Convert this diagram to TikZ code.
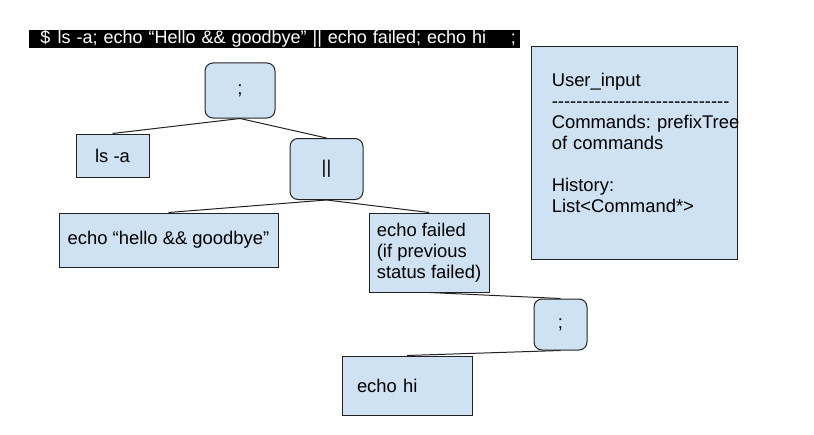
\documentclass[tikz,border=0pt]{standalone}
\usepackage{fontspec}
\setmainfont{Liberation Sans}
\usepackage{xcolor}
\usepackage{tikz}
\usetikzlibrary{positioning}
\definecolor{nodeblue}{HTML}{CFE2F3}
\definecolor{edgegray}{HTML}{222222}
\frenchspacing
\newcommand{\ruleline}{\foreach \k in {1,...,29}{-\kern0pt}}
\tikzset{
  leafbox/.style={draw=edgegray, fill=nodeblue, rectangle, line width=0.75pt, inner sep=0pt, align=center},
  opbox/.style={leafbox, rounded corners=6pt},
  cmdbar/.style={fill=black, text=white, inner xsep=0pt, inner ysep=0pt, minimum width=368.25pt, minimum height=12pt, text width=368.25pt, align=left, font=\fontsize{13.5}{15.75}\selectfont},
  infotext/.style={inner sep=0pt, align=left, text width=150pt},
  link/.style={draw=edgegray, line width=0.75pt}
}

\begin{document}
\begin{tikzpicture}[x=0.75pt,y=-0.75pt,font=\fontsize{13.8}{15.75}\selectfont]
\useasboundingbox (0,0) rectangle (814,435);
\node[cmdbar] (cmd) at (274.5,39) {\hspace*{8.5pt}\$\hspace{0.4em}ls -a; echo “Hello \&\& goodbye” || echo failed; echo hi\hfill;\hspace*{3pt}};
\node[opbox, minimum width=52.5pt, minimum height=41.25pt] (root) at (240,90.5) {;};
\node[leafbox, minimum width=54.75pt, minimum height=32.25pt] (ls) at (112.5,155.5) {ls -a};
\node[opbox, minimum width=54.75pt, minimum height=45.75pt] (orop) at (326.5,169) {||};
\node[leafbox, minimum width=164.25pt, minimum height=40.5pt] (hello) at (168.5,240) {echo “hello \&\& goodbye”};
\node[leafbox, align=left, minimum width=90pt, minimum height=59.25pt] (failed) at (429,252.5) {echo failed\\(if previous\\status failed)};
\node[opbox, minimum width=39.75pt, minimum height=38.25pt] (semi) at (560.5,324.5) {;};
\node[leafbox, align=left, text width=75pt, minimum width=97.5pt, minimum height=44.25pt] (hi) at (407,385.5) {echo hi};
\node[leafbox, minimum width=154.5pt, minimum height=159pt] (userbox) at (634,153) {};
\node[infotext, below right=19.5pt and 15.75pt of userbox.north west] (usertext)
  {User\_input\\\ruleline\\Commands: prefixTree\\of commands\\[15.75pt]History:\\List<Command*>};

\draw[link] (root.south) -- (ls.north);
\draw[link] (root.south) -- (orop.north);
\draw[link] (orop.south) -- (hello.north);
\draw[link] (orop.south) -- (failed.north);
\draw[link] (failed.south) -- (semi.north);
\draw[link] (semi.south) -- (hi.north);
\end{tikzpicture}
\end{document}
